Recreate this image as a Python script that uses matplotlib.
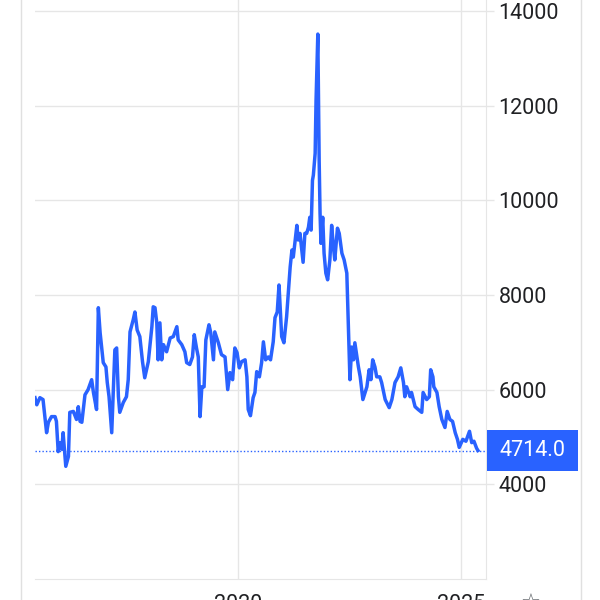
import matplotlib
matplotlib.use('Agg')
import matplotlib.pyplot as plt
from matplotlib.lines import Line2D
from matplotlib.patches import Rectangle
import matplotlib.transforms as mtransforms

# price history (decimal years)
years = [
    2015.45, 2015.49, 2015.56, 2015.63, 2015.71, 2015.75, 2015.82, 2015.90, 2015.93, 2015.97,
    2016.01, 2016.05, 2016.08, 2016.14, 2016.20, 2016.23, 2016.31, 2016.38, 2016.42, 2016.46,
    2016.50, 2016.57, 2016.64, 2016.72, 2016.76, 2016.83, 2016.87, 2016.91, 2016.98, 2017.04,
    2017.07, 2017.11, 2017.17, 2017.24, 2017.28, 2017.32, 2017.35, 2017.43, 2017.50, 2017.54,
    2017.58, 2017.65, 2017.69, 2017.74, 2017.80, 2017.86, 2017.91, 2017.99, 2018.07, 2018.10,
    2018.14, 2018.18, 2018.21, 2018.25, 2018.29, 2018.33, 2018.40, 2018.48, 2018.55, 2018.63,
    2018.66, 2018.74, 2018.81, 2018.85, 2018.92, 2018.98, 2019.02, 2019.07, 2019.11, 2019.15,
    2019.19, 2019.24, 2019.28, 2019.35, 2019.39, 2019.45, 2019.48, 2019.56, 2019.63, 2019.71,
    2019.77, 2019.82, 2019.88, 2019.93, 2019.98, 2020.03, 2020.08, 2020.16, 2020.20, 2020.23,
    2020.28, 2020.34, 2020.38, 2020.42, 2020.48, 2020.53, 2020.57, 2020.62, 2020.68, 2020.73,
    2020.79, 2020.83, 2020.88, 2020.92, 2020.98, 2021.03, 2021.09, 2021.15, 2021.17, 2021.21,
    2021.24, 2021.32, 2021.35, 2021.39, 2021.43, 2021.46, 2021.50, 2021.54, 2021.58, 2021.61,
    2021.64, 2021.67, 2021.69, 2021.73, 2021.75, 2021.79, 2021.82, 2021.84, 2021.86, 2021.90,
    2021.93, 2021.97, 2022.01, 2022.06, 2022.10, 2022.14, 2022.17, 2022.23, 2022.27, 2022.33,
    2022.38, 2022.44, 2022.47, 2022.51, 2022.55, 2022.59, 2022.62, 2022.66, 2022.70, 2022.74,
    2022.80, 2022.85, 2022.89, 2022.94, 2022.98, 2023.02, 2023.07, 2023.11, 2023.18, 2023.22,
    2023.30, 2023.39, 2023.45, 2023.52, 2023.59, 2023.65, 2023.71, 2023.74, 2023.78, 2023.86,
    2023.89, 2023.97, 2024.04, 2024.12, 2024.15, 2024.23, 2024.29, 2024.32, 2024.37, 2024.39,
    2024.46, 2024.51, 2024.57, 2024.64, 2024.69, 2024.75, 2024.81, 2024.87, 2024.92, 2024.96,
    2025.04, 2025.11, 2025.19, 2025.24, 2025.29, 2025.35, 2025.38,
]
prices = [
    5830, 5680, 5830, 5790, 5090, 5310, 5430, 5430, 5330, 4690,
    4880, 4740, 5090, 4380, 4590, 5520, 5540, 5370, 5640, 5330,
    5310, 5890, 6000, 6210, 5940, 5580, 7730, 7200, 6570, 6480,
    6150, 5850, 5090, 6840, 6880, 5850, 5520, 5730, 5850, 6210,
    7220, 7470, 7640, 7260, 7120, 6590, 6250, 6590, 7330, 7750,
    7730, 7410, 6630, 7410, 6630, 6950, 6800, 7090, 7120, 7330,
    7050, 6950, 6800, 6570, 6530, 6690, 7160, 6880, 6690, 5430,
    6060, 6060, 7050, 7370, 7200, 6630, 7220, 6990, 6740, 6690,
    6000, 6360, 6210, 6880, 6780, 6460, 6590, 6630, 6270, 5580,
    5450, 5830, 5940, 6380, 6270, 6570, 7010, 6630, 6690, 6630,
    7010, 7520, 7640, 8210, 7120, 6990, 7540, 8320, 8590, 8950,
    8800, 9470, 9160, 9300, 8950, 8690, 9300, 9300, 9430, 9640,
    9370, 10420, 10530, 10990, 12100, 13510, 10840, 9730, 9090, 9640,
    8880, 8460, 8320, 8740, 9470, 9010, 8740, 9410, 9300, 8880,
    8740, 8460, 7470, 6210, 6900, 6630, 6990, 6740, 6480, 6270,
    5790, 5940, 6060, 6420, 6210, 6630, 6480, 6270, 6270, 6150,
    5790, 5620, 5790, 6150, 6270, 6460, 6150, 5850, 6060, 5850,
    5940, 5640, 5580, 5520, 5940, 5790, 5850, 6420, 6270, 6060,
    5940, 5640, 5370, 5200, 5540, 5370, 5330, 5090, 4950, 4780,
    4950, 4910, 5120, 4880, 4910, 4760, 4714,
]
last_price = 4714.0
y_ticks = [4000, 6000, 8000, 10000, 12000, 14000]
x_ticks = [2020, 2025]

blue = '#2962ff'
grid = '#e6e6e6'

plt.rcParams['font.family'] = ['Roboto', 'DejaVu Sans']

fig = plt.figure(figsize=(6, 6), dpi=100)
ax = fig.add_axes([35 / 600, 21 / 600, 451 / 600, 579 / 600])

ax.plot(years, prices, color=blue, lw=2.5, solid_joinstyle='round', zorder=3)
ax.axhline(last_price, color=blue, lw=1, ls=(0, (1, 1.5)), zorder=2)

ax.set_xlim(2015.45, 2025.56)
ax.set_ylim(2000, 14230)

ax.yaxis.tick_right()
ax.set_yticks(y_ticks)
ax.set_yticklabels([str(v) for v in y_ticks])
ax.set_xticks(x_ticks)
ax.set_xticklabels([str(v) for v in x_ticks])
ax.tick_params(axis='y', length=6, width=1, color=grid, pad=3, labelsize=15.5, labelcolor='#202124')
ax.tick_params(axis='x', length=0, pad=11, labelsize=15.5, labelcolor='#202124')
ax.grid(True, color=grid, lw=1)

for side in ['top', 'left']:
    ax.spines[side].set_visible(False)
ax.spines['right'].set_color(grid)
ax.spines['bottom'].set_color(grid)

# last-price tag on the right axis
trans = mtransforms.blended_transform_factory(ax.transAxes, ax.transData)
ax.add_patch(Rectangle((1.002, last_price - 430), 0.202, 860, transform=trans,
                       facecolor=blue, edgecolor='none', clip_on=False, zorder=5))
ax.text(1.103, last_price, f'{last_price:.1f}', transform=trans, ha='center', va='center',
        color='white', fontsize=15.5, zorder=6, clip_on=False)

# screen frame lines
for xp in [21, 581]:
    fig.add_artist(Line2D([xp / 600, xp / 600], [0, 1], transform=fig.transFigure, color='#e0e0e0', lw=1))

fig.text(531 / 600, 1 - 594 / 600, '\u2606', ha='center', va='top', fontsize=16,
         color='#5f6368', family='DejaVu Sans')

fig.savefig('out.png', dpi=100)
